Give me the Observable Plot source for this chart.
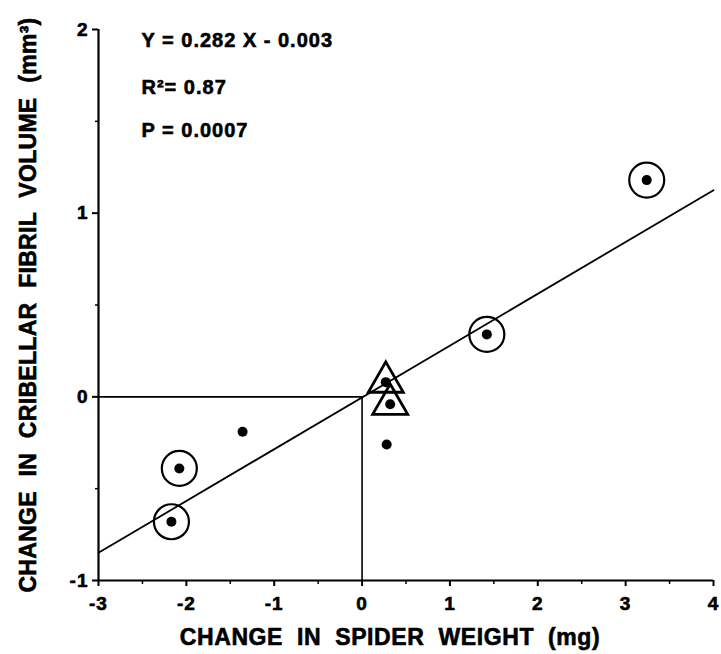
<!DOCTYPE html>
<html><head><meta charset="utf-8">
<script src="https://cdn.jsdelivr.net/npm/d3@7"></script>
<script src="https://cdn.jsdelivr.net/npm/@observablehq/plot@0.6"></script>
<style>body{margin:0;background:#fff;}</style>
</head><body><div id="chart"></div>
<script>
// Data
const pointX = [3.24, 1.42, 0.27, 0.32, 0.28, -1.36, -2.08, -2.17];
const pointY = [1.18, 0.34, 0.08, -0.04, -0.26, -0.19, -0.39, -0.68];
const pointMarker = ["circle", "circle", "triangle", "triangle", "none", "none", "circle", "circle"];

const fitX = [-3, 4];
const fitY = [-0.849, 1.125];

const refX = [-3, 0, 0];
const refY = [0, 0, -1];

const xTicks = [-3, -2, -1, 0, 1, 2, 3, 4];
const xMinor = [-2.5, -1.5, -0.5, 0.5, 1.5, 2.5, 3.5];
const yTicks = [-1, 0, 1, 2];
const yMinor = [-0.5, 0.5, 1.5];

const statLines = ["Y = 0.282 X - 0.003", "R\u00B2= 0.87", "P = 0.0007"];
const xLabel = "CHANGE IN SPIDER WEIGHT (mg)";
const yLabel = "CHANGE IN CRIBELLAR FIBRIL VOLUME (mm\u00B3)";

const points = pointX.map((x, i) => ({x, y: pointY[i], m: pointMarker[i]}));
const fit = fitX.map((x, i) => ({x, y: fitY[i]}));
const ref = refX.map((x, i) => ({x, y: refY[i]}));
const tickStrings = [...xTicks, ...yTicks].map(String);

const chart = Plot.plot({
  width: 721,
  height: 654,
  marginLeft: 98,
  marginRight: 8,
  marginTop: 29,
  marginBottom: 74,
  style: {fontFamily: "'Liberation Sans', Arial, sans-serif", fontWeight: "bold", background: "#fff", color: "#000"},
  x: {domain: [-3, 4]},
  y: {domain: [-1, 2]},
  marks: [
    Plot.line(ref, {x: "x", y: "y", stroke: "#000", strokeWidth: 1.6}),
    Plot.line(fit, {x: "x", y: "y", stroke: "#000", strokeWidth: 1.8}),
    Plot.ruleX([-3], {stroke: "#000", strokeWidth: 2.2}),
    Plot.ruleY([-1], {stroke: "#000", strokeWidth: 2.2}),
    Plot.axisX(xTicks, {tickSize: 6, tickPadding: 10, fontSize: 19, strokeWidth: 2, tickFormat: d => String(d), label: null}),
    Plot.axisX(xMinor, {tickSize: 4, strokeWidth: 1.5, fill: "none", label: null}),
    Plot.axisY(yTicks, {tickSize: 6, tickPadding: 4, fontSize: 19, strokeWidth: 2, tickFormat: d => String(d), label: null}),
    Plot.axisY(yMinor, {tickSize: 3, strokeWidth: 1.5, fill: "none", label: null}),
    Plot.dot(points.filter(d => d.m === "circle"), {x: "x", y: "y", r: 17.5, stroke: "#000", strokeWidth: 2.2, fill: "none"}),
    Plot.dot(points.filter(d => d.m === "triangle"), {x: "x", y: "y", symbol: "triangle", r: 13, stroke: "#000", strokeWidth: 2.8, fill: "none"}),
    Plot.dot(points, {x: "x", y: "y", r: 5, fill: "#000", stroke: "none"}),
    Plot.text([statLines[0]], {frameAnchor: "top-left", dx: 43, dy: 11, lineAnchor: "middle", textAnchor: "start", fontSize: 20, fill: "#000"}),
    Plot.text([statLines[1]], {frameAnchor: "top-left", dx: 43, dy: 58, lineAnchor: "middle", textAnchor: "start", fontSize: 20, fill: "#000"}),
    Plot.text([statLines[2]], {frameAnchor: "top-left", dx: 43, dy: 101, lineAnchor: "middle", textAnchor: "start", fontSize: 20, fill: "#000"}),
    Plot.text([xLabel], {frameAnchor: "bottom", dx: -16, dy: 57, lineAnchor: "middle", textAnchor: "middle", fontSize: 23, fill: "#000"}),
    Plot.text([yLabel], {frameAnchor: "left", dx: -70, dy: 0, rotate: -90, lineAnchor: "middle", textAnchor: "middle", fontSize: 23, fill: "#000"})
  ]
});
document.getElementById("chart").appendChild(chart);
// tick label size, heavier strokes and wide lettering like the original
chart.querySelectorAll("text").forEach(t => {
  const s = t.textContent;
  t.style.stroke = "#000";
  t.style.strokeWidth = "0.6px";
  if (tickStrings.includes(s)) { t.style.fontSize = "19px"; t.style.letterSpacing = "1px"; }
  if (s === xLabel) { t.style.letterSpacing = "0.6px"; t.style.wordSpacing = "7px"; }
  if (s === yLabel) { t.style.letterSpacing = "0.3px"; t.style.wordSpacing = "8px"; }
  if (statLines.includes(s)) { t.style.letterSpacing = "1px"; }
});
</script>
</body></html>
